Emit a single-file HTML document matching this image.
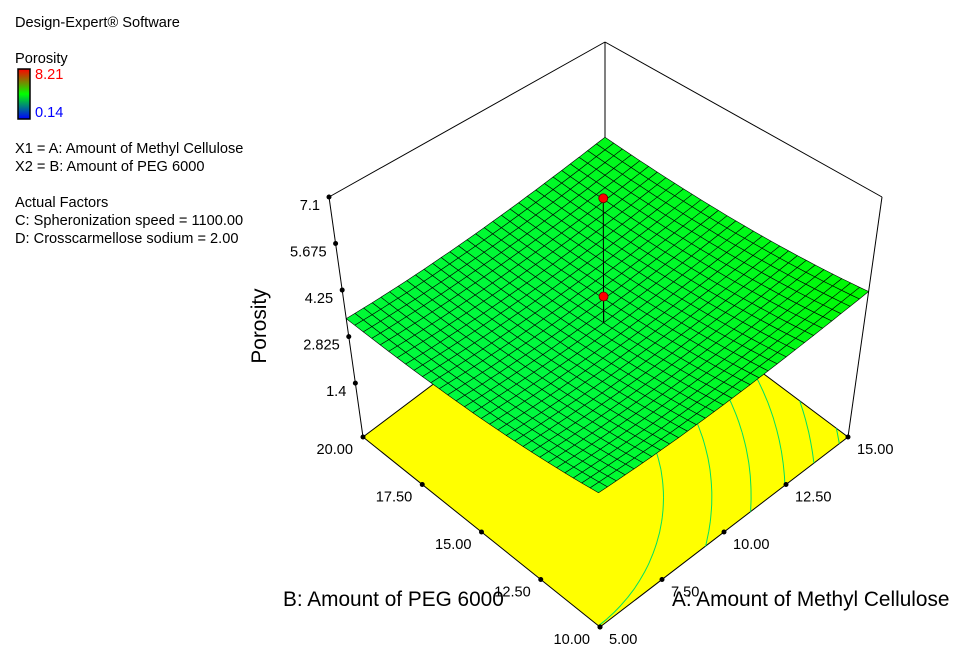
<!DOCTYPE html>
<html><head><meta charset="utf-8"><style>
body{margin:0;background:#fff;width:964px;height:650px;overflow:hidden;font-family:"Liberation Sans",Arial,sans-serif}
svg text{font-family:"Liberation Sans",Arial,sans-serif}
</style></head><body>
<svg id="chart" width="964" height="650" viewBox="0 0 964 650" xmlns="http://www.w3.org/2000/svg">
<g font-size="14.6" fill="#000">
<text x="15" y="27">Design-Expert® Software</text>
<text x="15" y="63">Porosity</text>
<defs><linearGradient id="cb" x1="0" y1="0" x2="0" y2="1"><stop offset="0" stop-color="#ff0000"/><stop offset="0.5" stop-color="#00ff00"/><stop offset="1" stop-color="#0000ff"/></linearGradient></defs>
<rect x="18" y="69" width="12" height="50" fill="url(#cb)" stroke="#000" stroke-width="1.5"/>
<text x="35" y="79" fill="#ff0000">8.21</text>
<text x="35" y="117" fill="#0000ff">0.14</text>
<text x="15" y="153">X1 = A: Amount of Methyl Cellulose</text>
<text x="15" y="171">X2 = B: Amount of PEG 6000</text>
<text x="15" y="207">Actual Factors</text>
<text x="15" y="225">C: Spheronization speed = 1100.00</text>
<text x="15" y="243">D: Crosscarmellose sodium  = 2.00</text>
</g>
<g id="plot"></g>
</svg>
<script>
// model coefficients (coded): b0, bA, bB, bAB, bAA, bBB
const coefficients = [3.3, 0.31, -0.105, -0.09, 0.2, 0.2];
const zTicks = [1.4, 2.825, 4.25, 5.675, 7.1];
const aTicks = [5, 7.5, 10, 12.5, 15];
const bTicks = [10, 12.5, 15, 17.5, 20];
const designPoints = [[10, 15, 7.1], [10, 15, 4.1]];
const contourLevels = [3.4, 3.55, 3.7, 3.85, 4.0, 4.15];
const colorMin = 0.14, colorMax = 8.21;

const NS = 'http://www.w3.org/2000/svg';
const plot = document.getElementById('plot');
const zMin = -0.25, zMax = 7.1;
const FL = {L:[363,437], F:[600,627], R:[848,437], B:[605,255]};
const TP = {L:[329,197], F:[597,357], R:[882,197], B:[605,42]};
function bil(c, a, b){
  const x = c.F[0]*(1-a)*(1-b) + c.R[0]*a*(1-b) + c.B[0]*a*b + c.L[0]*(1-a)*b;
  const y = c.F[1]*(1-a)*(1-b) + c.R[1]*a*(1-b) + c.B[1]*a*b + c.L[1]*(1-a)*b;
  return [x, y];
}
function proj(A, B, z){
  const a = (A-5)/10, b = (B-10)/10, t = (z - zMin)/(zMax - zMin);
  const p = bil(FL, a, b), q = bil(TP, a, b);
  return [p[0] + (q[0]-p[0])*t, p[1] + (q[1]-p[1])*t];
}
function model(A, B){
  const x = (A-10)/5, y = (B-15)/5, c = coefficients;
  return c[0] + c[1]*x + c[2]*y + c[3]*x*y + c[4]*x*x + c[5]*y*y;
}
function el(tag, attrs, parent){
  const e = document.createElementNS(NS, tag);
  for (const k in attrs) e.setAttribute(k, attrs[k]);
  (parent||plot).appendChild(e);
  return e;
}
function pts(arr){ return arr.map(p => p[0].toFixed(1)+','+p[1].toFixed(1)).join(' '); }
function color(z){
  const t = Math.max(0, Math.min(1, (z-colorMin)/(colorMax-colorMin)));
  let r=0,g=250,b=0;
  if (t < 0.5){ b = Math.min(255,(0.5-t)*2*260); }
  else { r = Math.min(255,(t-0.5)*2*450); g = 238; }
  return 'rgb('+Math.round(r)+','+Math.round(g)+','+Math.round(b)+')';
}
const floor = el('polygon', {points: pts([proj(5,20,zMin),proj(5,10,zMin),proj(15,10,zMin),proj(15,20,zMin)]), fill:'#ffff00', stroke:'#000', 'stroke-width':1});


const N = 30;
const gz = [];
for (let i=0;i<=N;i++){ gz.push([]); for (let j=0;j<=N;j++) gz[i].push(model(5+10*i/N, 10+10*j/N)); }
contourLevels.forEach(lv => {
  let d = '';
  for (let i=0;i<N;i++) for (let j=0;j<N;j++){
    const c = [[i,j],[i+1,j],[i+1,j+1],[i,j+1]];
    const cross = [];
    for (let k=0;k<4;k++){
      const p1=c[k], p2=c[(k+1)%4], v1=gz[p1[0]][p1[1]], v2=gz[p2[0]][p2[1]];
      if ((v1-lv)*(v2-lv) < 0){
        const t=(lv-v1)/(v2-v1);
        const ii=p1[0]+(p2[0]-p1[0])*t, jj=p1[1]+(p2[1]-p1[1])*t;
        cross.push(proj(5+10*ii/N, 10+10*jj/N, zMin));
      }
    }
    if (cross.length>=2) d += 'M'+cross[0][0].toFixed(1)+','+cross[0][1].toFixed(1)+'L'+cross[1][0].toFixed(1)+','+cross[1][1].toFixed(1);
  }
  const p = el('path', {d:d, stroke:'#00e060', 'stroke-width':1, fill:'none'});
  
  
});
[[proj(5,20,zMax),proj(15,20,zMax)],[proj(15,20,zMax),proj(15,10,zMax)],[proj(15,20,zMax),proj(15,20,zMin)]].forEach(s=>{
  const l = el('line', {x1:s[0][0],y1:s[0][1],x2:s[1][0],y2:s[1][1],stroke:'#000','stroke-width':1});
  
  
});
const surf = el('g', {});


const cells = [];
for (let i=0;i<N;i++) for (let j=0;j<N;j++) cells.push([i,j]);
cells.sort((p,q)=> (q[0]+q[1]) - (p[0]+p[1]));
cells.forEach(([i,j])=>{
  const A0=5+10*i/N, A1=5+10*(i+1)/N, B0=10+10*j/N, B1=10+10*(j+1)/N;
  const q = [proj(A0,B0,gz[i][j]), proj(A1,B0,gz[i+1][j]), proj(A1,B1,gz[i+1][j+1]), proj(A0,B1,gz[i][j+1])];
  const zc = (gz[i][j]+gz[i+1][j]+gz[i+1][j+1]+gz[i][j+1])/4;
  const c = el('polygon', {points: pts(q), fill: color(zc), stroke:'#000', 'stroke-width':0.6, 'stroke-linejoin':'round'}, surf);
  
  
});
const zl = el('line', {x1:proj(5,20,zMin)[0],y1:proj(5,20,zMin)[1],x2:proj(5,20,zMax)[0],y2:proj(5,20,zMax)[1],stroke:'#000','stroke-width':1});


const rl = el('line', {x1:proj(15,10,zMin)[0],y1:proj(15,10,zMin)[1],x2:proj(15,10,zMax)[0],y2:proj(15,10,zMax)[1],stroke:'#000','stroke-width':1});


zTicks.forEach(z=>{
  const p = proj(5,20,z);
  const d = el('circle', {cx:p[0], cy:p[1], r:2.5, fill:'#000'});
  
  
  const t = el('text', {x:p[0]-9, y:p[1]+13, 'text-anchor':'end', 'font-size':14.6, fill:'#000'});
  t.textContent = String(z);
  
  
});
bTicks.forEach(b=>{
  const p = proj(5,b,zMin);
  const d = el('circle', {cx:p[0], cy:p[1], r:2.5, fill:'#000'});
  
  
  const t = el('text', {x:p[0]-10, y:p[1]+17, 'text-anchor':'end', 'font-size':14.6, fill:'#000'});
  t.textContent = b.toFixed(2);
  
  
});
aTicks.forEach(a=>{
  const p = proj(a,10,zMin);
  const d = el('circle', {cx:p[0], cy:p[1], r:2.5, fill:'#000'});
  
  
  const t = el('text', {x:p[0]+9, y:p[1]+17, 'text-anchor':'start', 'font-size':14.6, fill:'#000'});
  t.textContent = a.toFixed(2);
  
  
});
designPoints.forEach(dp=>{
  const s = proj(dp[0], dp[1], model(dp[0],dp[1]));
  const p = proj(dp[0], dp[1], dp[2]);
  const l = el('line', {x1:p[0],y1:p[1],x2:s[0],y2:s[1],stroke:'#000','stroke-width':1});
  
  
});
designPoints.forEach(dp=>{
  const p = proj(dp[0], dp[1], dp[2]);
  const c = el('circle', {cx:p[0], cy:p[1], r:4.5, fill:'#ff0000', stroke:'#600', 'stroke-width':0.8});
  
  
});
const tb = el('text', {x:283, y:606, 'font-size':20.8, fill:'#000'});
tb.textContent = 'B: Amount of PEG 6000';


const ta = el('text', {x:672, y:606, 'font-size':20.8, fill:'#000'});
ta.textContent = 'A: Amount of Methyl Cellulose';


const tz = el('text', {x:0, y:0, 'font-size':20.8, fill:'#000', 'text-anchor':'middle', transform:'translate(266,326) rotate(-90)'});
tz.textContent = 'Porosity';


</script>
</body></html>
